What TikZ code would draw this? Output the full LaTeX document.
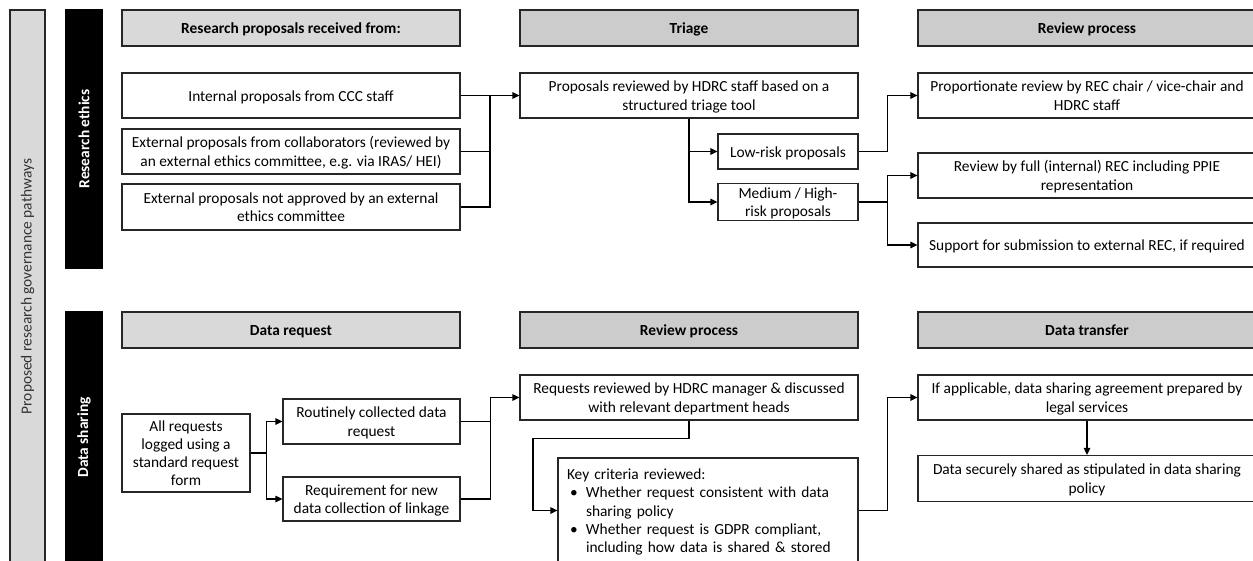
\documentclass[tikz,border=0pt]{standalone}
\usepackage{fontspec}
\setmainfont{Carlito}
\usetikzlibrary{arrows.meta}
\definecolor{hdlight}{HTML}{D9D9D9}
\definecolor{hddark}{HTML}{CCCCCC}
\definecolor{edge}{HTML}{262626}
\newcommand\tst{\rule{0pt}{15pt}}
\newcommand\bst{\rule[-4pt]{0pt}{4pt}}
\begin{document}
\begin{tikzpicture}[x=1pt,y=-1pt,
  every node/.style={font=\fontsize{15.4}{18.3}\selectfont, text=black},
  box/.style={draw=edge, line width=1.2pt, fill=white, align=center, inner sep=0pt, anchor=center},
  hdlt/.style={box, fill=hdlight, font=\fontsize{15.4}{18.3}\selectfont\bfseries, minimum height=36pt},
  hddk/.style={hdlt, fill=hddark},
  sidebar/.style={draw=black, line width=1.2pt, fill=black, text=white, inner sep=0pt, minimum width=36pt, font=\fontsize{15.4}{18.3}\selectfont\bfseries},
  arr/.style={line width=1.2pt, draw=black, -{Triangle[length=7pt,width=6.5pt]}},
  ln/.style={line width=1.2pt, draw=black}
]
\useasboundingbox (0,0) rectangle (1253,560);

% side bars
\node[draw=edge, line width=1.2pt, fill=hdlight, minimum width=35pt, minimum height=553pt, inner sep=0pt] (gbar) at (27.5,286.5) {};
\node[rotate=90, text=black!80] (gbartxt) at (gbar.center) {Proposed research governance pathways};
\node[sidebar, minimum height=258pt] (ethbar) at (84,139) {};
\node[rotate=90, text=white, font=\fontsize{15.4}{18.3}\selectfont\bfseries] (ethtxt) at (ethbar.center) {Research ethics};
\node[sidebar, minimum height=251pt] (dsbar) at (84,437.5) {};
\node[rotate=90, text=white, font=\fontsize{15.4}{18.3}\selectfont\bfseries] (dstxt) at (dsbar.center) {Data sharing};

% headers
\node[hdlt, minimum width=338pt] (h1a) at (291,28) {\tst Research proposals received from:\bst};
\node[hddk, minimum width=338pt] (h1b) at (689,28) {\tst Triage\bst};
\node[hddk, minimum width=338pt] (h1c) at (1087,28) {\tst Review process\bst};
\node[hdlt, minimum width=338pt] (h2a) at (291,330) {\tst Data request\bst};
\node[hddk, minimum width=338pt] (h2b) at (689,330) {\tst Review process\bst};
\node[hddk, minimum width=338pt] (h2c) at (1087,330) {\tst Data transfer\bst};

% row 1
\node[box, minimum width=338pt, minimum height=45pt] (int) at (291,95.5) {\tst Internal proposals from CCC staff\bst};
\node[box, minimum width=338pt, minimum height=45pt] (ext) at (291,151.5) {\tst External proposals from collaborators (reviewed by\\an external ethics committee, e.g. via IRAS/ HEI)\bst};
\node[box, minimum width=338pt, minimum height=46pt] (nap) at (291,207) {\tst External proposals not approved by an external\\ethics committee\bst};
\node[box, minimum width=338pt, minimum height=45pt] (tri) at (689,95.5) {\tst Proposals reviewed by HDRC staff based on a\\structured triage tool\bst};
\node[box, minimum width=140pt, minimum height=35pt] (low) at (788,151.5) {\tst Low-risk proposals\bst};
\node[box, minimum width=140pt, minimum height=36pt] (med) at (788,202) {\tst Medium / High-\\risk proposals\bst};
\node[box, minimum width=338pt, minimum height=45pt] (prop) at (1087,95.5) {\tst Proportionate review by REC chair / vice-chair and\\HDRC staff\bst};
\node[box, minimum width=338pt, minimum height=45pt] (full) at (1087,175.5) {\tst Review by full (internal) REC including PPIE\\representation\bst};
\node[box, minimum width=338pt, minimum height=44pt] (sup) at (1087,245) {\tst Support for submission to external REC, if required\bst};

\coordinate (j1) at (490,95.5);
\draw[arr] (int.east) -- (tri.west);
\draw[ln] (ext.east) -| (j1);
\draw[ln] (nap.east) -| (j1);
\draw[arr] (tri.south) |- (low.west);
\draw[arr] (tri.south) |- (med.west);
\draw[arr] (low.east) -- ++(29,0) |- (prop.west);
\draw[arr] (med.east) -- ++(29,0) |- (full.west);
\draw[arr] (med.east) -- ++(29,0) |- (sup.west);

% row 2
\node[box, minimum width=128pt, minimum height=78pt] (allr) at (186,453) {\tst All requests\\logged using a\\standard request\\form\bst};
\node[box, minimum width=177pt, minimum height=45pt] (rout) at (371.5,421.5) {\tst Routinely collected data\\request\bst};
\node[box, minimum width=177pt, minimum height=44pt] (reqn) at (371.5,499) {\tst Requirement for new\\data collection of linkage\bst};
\node[box, minimum width=338pt, minimum height=45pt] (rev) at (689,397.5) {\tst Requests reviewed by HDRC manager \& discussed\\with relevant department heads\bst};
\node[box, minimum width=300pt, minimum height=105pt, text width=282pt, align=left] (key) at (708,510.5) {\tst Key criteria reviewed:\\
\hspace*{3pt}\makebox[16pt][l]{\textbullet}Whether request consistent with data\\
\hspace*{19pt}sharing policy\\
\hspace*{3pt}\makebox[16pt][l]{\textbullet}Whether request is GDPR compliant,\\
\hspace*{19pt}including how data is shared \& stored\bst};
\node[box, minimum width=338pt, minimum height=45pt] (ifap) at (1087,397.5) {\tst If applicable, data sharing agreement prepared by\\legal services\bst};
\node[box, minimum width=338pt, minimum height=46pt] (dsec) at (1087,478.5) {\tst Data securely shared as stipulated in data sharing\\policy\bst};

\draw[arr] (allr.east) -- ++(16,0) |- (rout.west);
\draw[arr] (allr.east) -- ++(16,0) |- (reqn.west);
\draw[ln] (rout.east) -- ++(30,0);
\draw[arr] (reqn.east) -- ++(30,0) |- (rev.west);
\coordinate (kbend) at (533,510.5);
\draw[arr] (rev.south) -- ++(0,18) -| (kbend) -- (key.west);
\draw[arr] (key.east) -- ++(29,0) |- (ifap.west);
\draw[arr] (ifap.south) -- (dsec.north);
\end{tikzpicture}
\end{document}
